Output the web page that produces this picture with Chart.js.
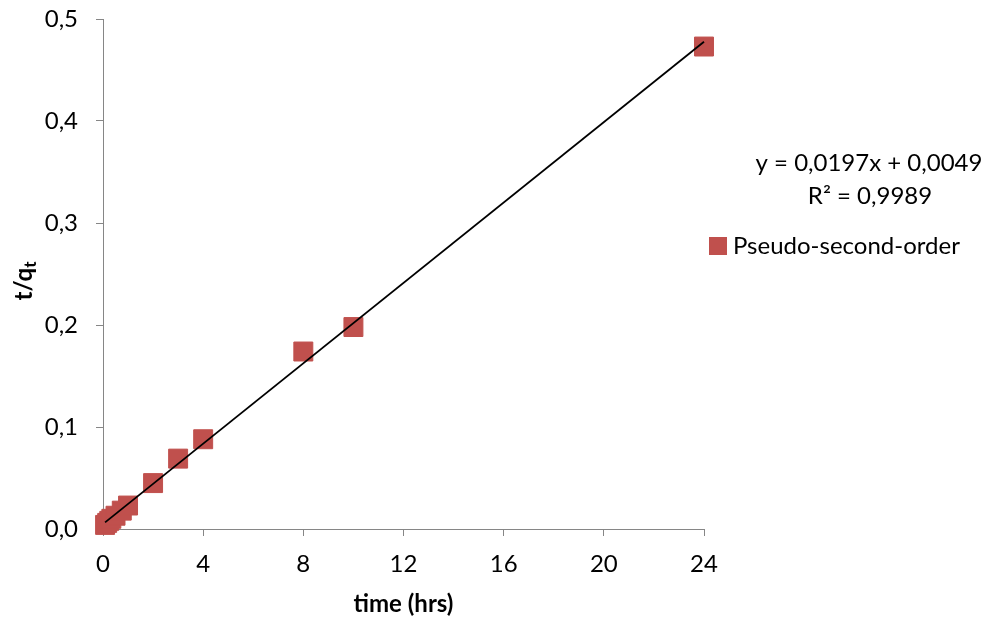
<!DOCTYPE html>
<html>
<head>
<meta charset="utf-8">
<script src="https://cdn.jsdelivr.net/npm/chart.js@4.4.1/dist/chart.umd.min.js"></script>
<style>
  html, body { margin: 0; padding: 0; background: #ffffff; }
  canvas { display: block; }
</style>
</head>
<body>
<canvas id="kinetics" width="986" height="621"></canvas>
<script>
// Pseudo-second-order kinetics: t/qt against contact time
const timeHrs = [0.083, 0.167, 0.25, 0.333, 0.5, 0.75, 1, 2, 3, 4, 8, 10, 24];
const tOverQt = [0.004, 0.006, 0.008, 0.010, 0.013, 0.018, 0.023, 0.045, 0.069, 0.088, 0.174, 0.198, 0.473];

// Linear fit reported on the chart
const fitSlope = 0.0197;
const fitIntercept = 0.0049;
const fitR2 = 0.9989;

const xTickValues = [0, 4, 8, 12, 16, 20, 24];
const yTickValues = [0, 0.1, 0.2, 0.3, 0.4, 0.5];

const seriesName = 'Pseudo-second-order';
const xTitle = 'time (hrs)';

const FONT = 'Lato';
const FONT_SIZE = 24;
const AXIS_GREY = '#868686';
const MARKER_RED = '#C0504D';

const comma = (v, d) => v.toFixed(d).replace('.', ',');

// Trend line spans the measured time range
const tMin = Math.min(...timeHrs);
const tMax = Math.max(...timeHrs);
const trendPoints = [tMin, tMax].map(t => ({ x: t, y: fitSlope * t + fitIntercept }));
const scatterPoints = timeHrs.map((t, i) => ({ x: t, y: tOverQt[i] }));

const annotations = {
  id: 'annotations',
  afterDraw(chart) {
    const ctx = chart.ctx;
    const area = chart.chartArea;
    ctx.save();
    ctx.fillStyle = '#000000';

    // x-axis title
    ctx.font = `bold ${FONT_SIZE}px ${FONT}`;
    ctx.textAlign = 'center';
    ctx.textBaseline = 'middle';
    ctx.fillText(xTitle, (area.left + area.right) / 2, 604);

    // y-axis title with subscript: t/q_t
    ctx.save();
    ctx.font = `bold ${FONT_SIZE}px ${FONT}`;
    const mainW = ctx.measureText('t/q').width;
    ctx.font = `bold 17px ${FONT}`;
    const subW = ctx.measureText('t').width;
    const total = mainW + subW;
    const centerY = 281;
    ctx.translate(32, centerY + total / 2);
    ctx.rotate(-Math.PI / 2);
    ctx.textAlign = 'left';
    ctx.textBaseline = 'alphabetic';
    ctx.font = `bold ${FONT_SIZE}px ${FONT}`;
    ctx.fillText('t/q', 0, 0);
    ctx.font = `bold 17px ${FONT}`;
    ctx.fillText('t', mainW, 4);
    ctx.restore();

    // trend line equation
    ctx.font = `${FONT_SIZE}px ${FONT}`;
    ctx.textAlign = 'center';
    ctx.textBaseline = 'middle';
    ctx.fillText(`y = ${comma(fitSlope, 4)}x + ${comma(fitIntercept, 4)}`, 869, 163);
    ctx.fillText(`R² = ${comma(fitR2, 4)}`, 870, 196);

    // legend entry
    ctx.fillStyle = MARKER_RED;
    ctx.fillRect(709, 237, 18, 18);
    ctx.fillStyle = '#000000';
    ctx.textAlign = 'left';
    ctx.fillText(seriesName, 733, 246);
    ctx.restore();
  }
};

new Chart(document.getElementById('kinetics'), {
  type: 'scatter',
  data: {
    datasets: [
      {
        type: 'line',
        label: 'Linear fit',
        data: trendPoints,
        borderColor: '#000000',
        borderWidth: 1.8,
        pointRadius: 0,
        fill: false,
        clip: false,
        order: 0
      },
      {
        label: seriesName,
        data: scatterPoints,
        pointStyle: 'rect',
        pointRadius: 13.4,
        pointBorderWidth: 1,
        pointBackgroundColor: MARKER_RED,
        pointBorderColor: MARKER_RED,
        showLine: false,
        clip: false,
        order: 1
      }
    ]
  },
  options: {
    responsive: false,
    animation: false,
    devicePixelRatio: 1,
    layout: { padding: { top: 19, right: 282, left: 0, bottom: 0 } },
    plugins: {
      legend: { display: false },
      tooltip: { enabled: false }
    },
    scales: {
      x: {
        type: 'linear',
        min: 0,
        max: 24,
        afterBuildTicks: s => { s.ticks = xTickValues.map(v => ({ value: v })); },
        afterFit: s => { s.height = 92; s.paddingLeft = 0; s.paddingRight = 0; },
        border: { display: true, color: AXIS_GREY, width: 1 },
        grid: { drawOnChartArea: false, drawTicks: true, tickLength: 7, color: AXIS_GREY },
        ticks: {
          padding: 14,
          color: '#000000',
          font: { family: FONT, size: FONT_SIZE },
          maxRotation: 0,
          callback: v => String(v)
        }
      },
      y: {
        type: 'linear',
        min: 0,
        max: 0.5,
        afterBuildTicks: s => { s.ticks = yTickValues.map(v => ({ value: v })); },
        afterFit: s => { s.width = 103; s.paddingTop = 0; s.paddingBottom = 0; },
        border: { display: true, color: AXIS_GREY, width: 1 },
        grid: { drawOnChartArea: false, drawTicks: true, tickLength: 7, color: AXIS_GREY },
        ticks: {
          padding: 18,
          color: '#000000',
          font: { family: FONT, size: FONT_SIZE },
          callback: v => comma(v, 1)
        }
      }
    }
  },
  plugins: [annotations]
});
</script>
</body>
</html>
